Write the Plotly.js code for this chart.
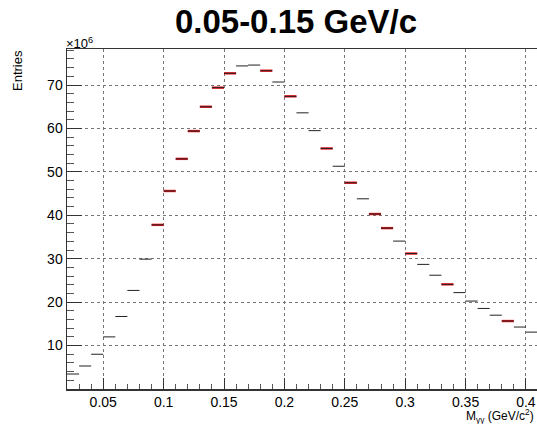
<!DOCTYPE html>
<html>
<head>
<meta charset="utf-8">
<script src="https://cdn.plot.ly/plotly-3.0.1.min.js"></script>
<style>
html,body{margin:0;padding:0;overflow:hidden;background:#fff;}
#chart{width:540px;height:424px;}
</style>
</head>
<body>
<div id="chart"></div>
<script>
// Bin lower edges (GeV/c^2), bin width 0.01
const binLow = [0.02,0.03,0.04,0.05,0.06,0.07,0.08,0.09,0.10,0.11,0.12,0.13,0.14,0.15,0.16,0.17,0.18,0.19,0.20,0.21,0.22,0.23,0.24,0.25,0.26,0.27,0.28,0.29,0.30,0.31,0.32,0.33,0.34,0.35,0.36,0.37,0.38,0.39,0.40];
const binWidth = 0.01;
// Entries (x10^6)
const entries = [3.45,5.3,8.0,12.0,16.7,22.7,29.9,37.8,45.6,53.0,59.4,65.0,69.4,72.7,74.4,74.6,73.3,70.7,67.4,63.6,59.5,55.4,51.3,47.5,43.8,40.3,37.05,34.06,31.2,28.7,26.2,24.1,22.2,20.25,18.55,17.0,15.65,14.27,13.1];
// Highlighted (red) bins
const highlighted = [0,0,0,0,0,0,0,1,1,1,1,1,1,1,0,0,1,0,1,0,0,1,0,1,0,1,1,0,1,0,0,1,0,0,0,0,1,0,0];
const yTicks = [10,20,30,40,50,60,70];
const xTicks = [0.05,0.1,0.15,0.2,0.25,0.3,0.35,0.4];
const xTickText = ["0.05","0.1","0.15","0.2","0.25","0.3","0.35","0.4"];

function segs(filter){
  const xs=[], ys=[];
  binLow.forEach((lo,i)=>{
    if(!filter(i)) return;
    xs.push(lo, lo+binWidth, null);
    ys.push(entries[i], entries[i], null);
  });
  return {xs, ys};
}
const red = segs(i=>highlighted[i]===1);
const all = segs(()=>true);

const traces = [
  {x:red.xs, y:red.ys, type:'scatter', mode:'lines', line:{color:'#e8141c', width:2.4}, hoverinfo:'skip', showlegend:false},
  {x:all.xs, y:all.ys, type:'scatter', mode:'lines', line:{color:'#222', width:1}, hoverinfo:'skip', showlegend:false}
];

const axisFont = {family:'"Liberation Sans", Arial, sans-serif', size:14, color:'#000'};
const layout = {
  width:540, height:424,
  margin:{l:67, r:2, t:49, b:35, pad:0},
  paper_bgcolor:'#fff', plot_bgcolor:'#fff',
  showlegend:false,
  title:{text:'<b>0.05-0.15 GeV/c</b>', font:{family:'"Liberation Sans", Arial, sans-serif', size:33, color:'#000'},
         xref:'container', x:296/540, xanchor:'center', yref:'container', y:1-21/424, yanchor:'middle'},
  xaxis:{range:[0.02,0.41], tickvals:xTicks, ticktext:xTickText, ticks:'inside', ticklen:11, tickwidth:1, tickcolor:'#333',
         showline:true, linecolor:'#333', linewidth:1.5, mirror:true,
         showgrid:true, gridcolor:'#777', griddash:'dot', gridwidth:1, zeroline:false,
         tickfont:axisFont,
         minor:{dtick:0.01, tick0:0, ticks:'inside', ticklen:5, tickcolor:'#555', tickwidth:1, showgrid:false}},
  yaxis:{range:[0,78.3], tickvals:yTicks, ticks:'inside', ticklen:15, tickwidth:1, tickcolor:'#333',
         showline:true, linecolor:'#333', linewidth:1.5, mirror:true,
         showgrid:true, gridcolor:'#777', griddash:'dot', gridwidth:1, zeroline:false,
         tickfont:axisFont,
         minor:{dtick:2, tick0:0, ticks:'inside', ticklen:7, tickcolor:'#555', tickwidth:1, showgrid:false}},
  annotations:[
    {text:'Entries', textangle:-90, xref:'paper', yref:'paper', x:0, xshift:-50, y:1, yshift:-22, xanchor:'center', yanchor:'middle',
     showarrow:false, font:{family:'"Liberation Sans", Arial, sans-serif', size:13, color:'#000'}},
    {text:'×10<sup>6</sup>', xref:'paper', yref:'paper', x:0, xshift:-3, y:1, yshift:-4, xanchor:'left', yanchor:'bottom',
     showarrow:false, font:{family:'"Liberation Sans", Arial, sans-serif', size:13, color:'#000'}},
    {text:'M<sub>γγ</sub> (GeV/c<sup>2</sup>)', xref:'paper', yref:'paper', x:1, xshift:-3, y:0, yshift:-17, xanchor:'right', yanchor:'top',
     borderpad:0, showarrow:false, font:{family:'"Liberation Sans", Arial, sans-serif', size:12, color:'#000'}}
  ]
};
Plotly.newPlot('chart', traces, layout, {staticPlot:true, displayModeBar:false});
</script>
</body>
</html>
